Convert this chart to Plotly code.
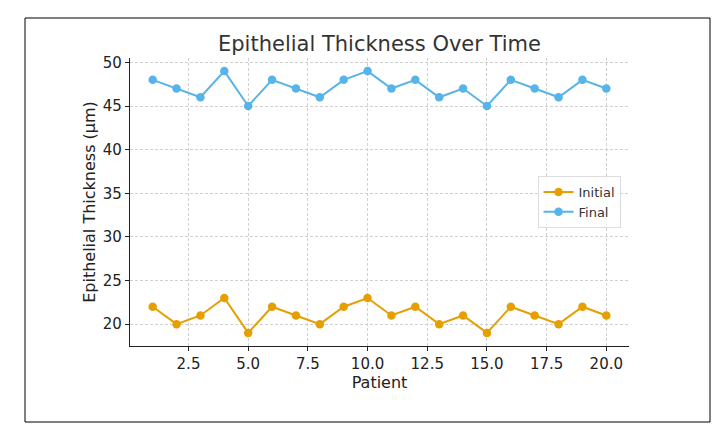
import plotly.graph_objects as go

patients = list(range(1, 21))
initial = [22, 20, 21, 23, 19, 22, 21, 20, 22, 23, 21, 22, 20, 21, 19, 22, 21, 20, 22, 21]
final = [48, 47, 46, 49, 45, 48, 47, 46, 48, 49, 47, 48, 46, 47, 45, 48, 47, 46, 48, 47]

OFF = 8  # default page body margin
W, H = 725 - 2 * OFF, 433 - 2 * OFF
L, R, T, B = 130 - OFF, 629 - OFF, 58 - OFF, 346 - OFF

fig = go.Figure()
fig.add_trace(go.Scatter(x=patients, y=initial, mode="lines+markers", name="Initial",
                         line=dict(color="#E69F00", width=2), marker=dict(size=8.5, color="#E69F00")))
fig.add_trace(go.Scatter(x=patients, y=final, mode="lines+markers", name="Final",
                         line=dict(color="#56B4E9", width=2), marker=dict(size=8.5, color="#56B4E9")))

pw, ph = R - L, B - T
def px(x): return (x - OFF - L) / pw
def py(y): return (B - (y - OFF)) / ph

fig.add_shape(type="rect", xref="paper", yref="paper",
              x0=px(25), x1=px(710), y0=py(422), y1=py(18),
              line=dict(color="black", width=1), fillcolor="rgba(0,0,0,0)", layer="below")

axis_common = dict(showgrid=True, gridcolor="#d0d0d0", griddash="3px,2px", gridwidth=0.8,
                   showline=True, linecolor="#222222", linewidth=1.2,
                   ticks="outside", ticklen=4, tickwidth=1.2, tickcolor="#222222",
                   tickfont=dict(size=15, color="#222222"), zeroline=False)

fig.update_layout(
    width=W, height=H,
    margin=dict(l=L, r=W - R, t=T, b=H - B),
    paper_bgcolor="white", plot_bgcolor="white",
    font=dict(family="DejaVu Sans", color="#222222"),
    title=dict(text="Epithelial Thickness Over Time", x=0.5, xref="paper", xanchor="center",
               y=1 - (44 - OFF) / H, yanchor="middle", font=dict(size=21, color="#333333")),
    xaxis=dict(range=[0.05, 20.95], tickvals=[2.5, 5, 7.5, 10, 12.5, 15, 17.5, 20],
               ticktext=["2.5", "5.0", "7.5", "10.0", "12.5", "15.0", "17.5", "20.0"],
               title=dict(text="Patient", font=dict(size=16, color="#222222"), standoff=2),
               **axis_common),
    yaxis=dict(range=[17.5, 50.5], tickvals=[20, 25, 30, 35, 40, 45, 50],
               title=dict(text="Epithelial Thickness (μm)", font=dict(size=16, color="#222222"), standoff=3),
               **axis_common),
    legend=dict(x=0.983, y=0.5, xanchor="right", yanchor="middle",
                bordercolor="#dddddd", borderwidth=1, bgcolor="rgba(255,255,255,0.8)",
                font=dict(size=13, color="#333333"), tracegroupgap=0),
    showlegend=True,
)

fig.write_html("out.html")
